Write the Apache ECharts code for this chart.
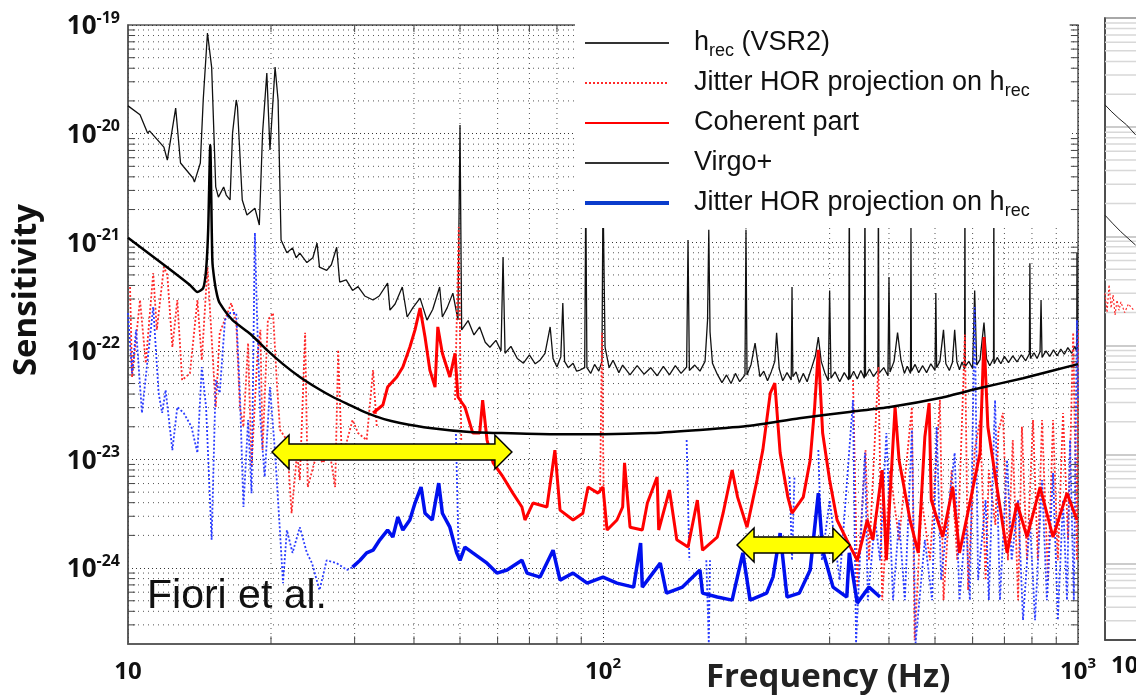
<!DOCTYPE html>
<html>
<head>
<meta charset="utf-8">
<script src="https://cdn.jsdelivr.net/npm/echarts@6/dist/echarts.min.js"></script>
<style>
  html, body { margin: 0; padding: 0; background: #fff; }
  #main { width: 1136px; height: 697px; }
</style>
</head>
<body>
<div id="main"></div>
<script>
// h_rec (VSR2), thin black, [Hz, strain/sqrt(Hz)]
let hrec = [
  [10,1.8e-20],[10.6,1.49e-20],[11.0,1.01e-20],[11.1,1.06e-20],[11.9,7.5e-21],[12.1,5.7e-21],[12.6,1.72e-20],[12.9,5.36e-21],
  [13.7,3.9e-21],[13.8,3.58e-21],[14.2,5.36e-21],[14.4,2.04e-20],[14.7,8.44e-20],[15.0,4.1e-20],[15.3,3.23e-21],[15.5,2.6e-21],
  [15.9,3.23e-21],[16.1,2.72e-21],[16.4,2.45e-21],[16.6,1.01e-20],[16.9,2.04e-20],[17.0,1.76e-20],[17.4,2.45e-21],[17.8,1.78e-21],
  [18.5,2.06e-21],[18.9,1.44e-21],[19.2,1.01e-20],[19.6,3.61e-20],[19.9,7.06e-21],[20.4,4.1e-20],[20.7,2.04e-20],[21.0,1.05e-21],
  [21.6,8e-22],[22.2,8.84e-22],[22.6,7.2e-22],[23.0,7.95e-22],[23.8,6.5e-22],[24.5,7.2e-22],[25.0,9.8e-22],[25.3,5.9e-22],
  [26.2,5.5e-22],[26.8,6.2e-22],[27.5,9.0e-22],[27.9,4.3e-22],[28.8,4.5e-22],[29.7,3.6e-22],[30.5,3.9e-22],[31.5,3.2e-22],
  [32.8,2.94e-22],[33.8,3.2e-22],[35.2,4.21e-22],[35.6,2.37e-22],[36.5,2.7e-22],[37.8,3.87e-22],[38.7,2.05e-22],[39.8,2.5e-22],
  [41.2,3.06e-22],[42.6,1.92e-22],[43.8,2.4e-22],[45.3,3.87e-22],[45.9,2.05e-22],[47.0,2.5e-22],[48.3,3.4e-22],[49.5,1.92e-22],
  [50,1.2e-20],[50.4,1.56e-22],[52,1.9e-22],[53.5,1.4e-22],[55,1.66e-22],[56.5,1.2e-22],[57.8,1.08e-22],[59.5,1.25e-22],
  [61,1.0e-22],[61.6,7.3e-22],[62.2,9.5e-23],[64,1.1e-22],[66,8.5e-23],[68,7.7e-23],[70,9.2e-23],[72,7.6e-23],
  [73.7,8.2e-23],[75.5,9.5e-23],[77.4,1.66e-22],[78.5,8.5e-23],[80,7.1e-23],[81.5,8.8e-23],[82.3,2.75e-22],[83,8e-23],
  [84.5,7e-23],[86.5,7.7e-23],[88,6.5e-23],[89.5,6.66e-23],[91.5,7e-23],[92,3e-21],[92.5,7e-23],[94.2,6.2e-23],
  [96,7.5e-23],[98,6.5e-23],[99.5,8e-23],[100,3e-21],[101,1.08e-22],[103,7.0e-23],[105,8.2e-23],[108,6.3e-23],
  [110,7.4e-23],[114,6.0e-23],[118,7.3e-23],[122,6.1e-23],[126,7.0e-23],[130,5.9e-23],[134,7.2e-23],[138,6.0e-23],
  [142,7.3e-23],[146,6.2e-23],[150,7.1e-23],[151,1.05e-21],[152,6.6e-23],[156,7.4e-23],[160,6.5e-23],[164,8.0e-23],
  [166,1.92e-22],[167,1.3e-21],[168,1.5e-22],[170,7.7e-23],[174,6.1e-23],[178,5.1e-23],[182,6.0e-23],[186,5.0e-23],
  [190,6.2e-23],[194,5.2e-23],[199,6.0e-23],[200,1.3e-21],[201,6.0e-23],[205,7.5e-23],[209,1.18e-22],[212,7.6e-23],
  [214,5.8e-23],[218,6.5e-23],[222,5.3e-23],[226,6.4e-23],[230,8e-23],[232,1.47e-22],[235,6.8e-23],[239,5.3e-23],
  [244,6.3e-23],[249,5.4e-23],[250,3.87e-22],[251,5.8e-23],[255,6.4e-23],[259,5.1e-23],[264,6.2e-23],[269,5.2e-23],
  [275,7e-23],[280,9e-23],[284,1.34e-22],[288,8e-23],[293,6.3e-23],[298,5.3e-23],[300,3.6e-22],[302,5.6e-23],
  [308,6.4e-23],[315,5.2e-23],[322,6.3e-23],[329,5.4e-23],[330,3e-21],[331,5.5e-23],[337,6.5e-23],[343,5.5e-23],
  [349,6.6e-23],[355,5.6e-23],[356,3e-21],[357,5.8e-23],[364,6.8e-23],[371,5.8e-23],[379,6.6e-23],[380,3e-21],
  [381,6.2e-23],[390,7.0e-23],[398,5.9e-23],[400,4.78e-22],[402,6.4e-23],[410,8e-23],[417,1.47e-22],[424,8.2e-23],
  [431,6.2e-23],[437,7.2e-23],[444,6.2e-23],[445,1.38e-21],[446,6.5e-23],[454,7.5e-23],[462,6.3e-23],[471,7.3e-23],
  [480,6.3e-23],[490,7.6e-23],[500,6.6e-23],[502,3.4e-22],[504,7.0e-23],[512,8.0e-23],[521,1.56e-22],[527,7.6e-23],
  [536,6.6e-23],[544,7.8e-23],[550,1.56e-22],[556,7.9e-23],[563,6.7e-23],[570,7.9e-23],[577,6.8e-23],[578,3e-21],
  [579,7.2e-23],[589,8.0e-23],[600,6.9e-23],[606,3.6e-22],[612,7.4e-23],[622,8.3e-23],[634,1.82e-22],[642,8.4e-23],
  [652,7.3e-23],[664,8.5e-23],[665,3e-21],[666,7.6e-23],[676,8.7e-23],[688,7.6e-23],[700,8.9e-23],[714,7.8e-23],
  [729,9.0e-23],[744,7.9e-23],[760,9.2e-23],[776,8.1e-23],[790,9.4e-23],[792,6.4e-22],[794,8.5e-23],[808,9.6e-23],
  [820,8.5e-23],[832,9.8e-23],[836,2.94e-22],[840,8.7e-23],[856,1.0e-22],[872,8.9e-23],[888,1.02e-22],[904,9.0e-23],
  [920,1.04e-22],[936,9.3e-23],[952,1.07e-22],[970,9.5e-23],[985,1.1e-22],[994,9.8e-23],[995,7.95e-22],[997,1.0e-22],
  [1000,1.05e-22]
];

// Virgo+ design curve, thick black
let virgo = [
  [10,1.1e-21],[11.1,7.8e-22],[12.3,5.55e-22],[13.5,4.04e-22],[14.0,3.48e-22],[14.4,3.79e-22],[14.6,5.55e-22],[14.75,1.3e-21],
  [14.9,7.85e-21],[15.05,6.85e-22],[15.2,4.49e-22],[15.4,3.26e-22],[15.6,2.75e-22],[16.6,1.92e-22],[18.1,1.43e-22],[19.6,1.02e-22],
  [21.2,7.55e-23],[23.0,5.75e-23],[25.0,4.55e-23],[27.0,3.76e-23],[29.3,3.17e-23],[31.8,2.68e-23],[34.6,2.35e-23],[37.4,2.17e-23],
  [43.2,1.95e-23],[52.4,1.79e-23],[60.7,1.75e-23],[77.4,1.71e-23],[100,1.71e-23],[126,1.75e-23],[160,1.87e-23],[204,2.04e-23],
  [259,2.4e-23],[330,2.74e-23],[402,3.04e-23],[512,3.68e-23],[622,4.55e-23],[766,5.6e-23],[1000,7.55e-23]
];

// Coherent part, thick red
let coherent = [
  [32.8,2.68e-23],[34.4,3.17e-23],[35.2,4.64e-23],[36.8,5.75e-23],[37.9,7.1e-23],[39.2,1.08e-22],[40.2,1.56e-22],[41.2,2.48e-22],
  [42.2,1.34e-22],[43.2,6.66e-23],[44.3,4.64e-23],[44.9,1.66e-22],[45.9,9.5e-23],[47.6,5.75e-23],[48.8,9.5e-23],[49.5,3.76e-23],
  [51.2,3.04e-23],[53.2,1.75e-23],[55.0,1.75e-23],[55.8,3.52e-23],[57.0,1.51e-23],[58.7,9.3e-24],[61.6,6.9e-24],[64.6,4.9e-24],
  [67.5,3.65e-24],[68.5,2.77e-24],[71.2,3.97e-24],[76.2,3.65e-24],[79.2,1.22e-23],[81.2,3.42e-24],[86.5,2.77e-24],[90.7,3.2e-24],
  [93.0,5.57e-24],[97.6,4.9e-24],[100,5.57e-24],[102,2.24e-24],[107,2.77e-24],[110,3.65e-24],[111,9.3e-24],[114,2.38e-24],
  [121,2.24e-24],[124,3.97e-24],[130,6.9e-24],[131,2.24e-24],[138,5.23e-24],[143,1.82e-24],[151,1.56e-24],[158,4.23e-24],
  [162,1.46e-24],[174,1.93e-24],[179,3.2e-24],[187,7.98e-24],[192,4.5e-24],[201,2.38e-24],[211,6.46e-24],[217,1.22e-23],
  [225,4.09e-23],[230,5.05e-23],[236,1.15e-23],[245,4.5e-24],[250,3.2e-24],[264,4.5e-24],[273,9.9e-24],[279,3.04e-23],
  [284,1.02e-22],[290,1.75e-23],[300,6.46e-24],[311,2.77e-24],[326,1.82e-24],[343,1.18e-24],[360,2.77e-24],[370,1.82e-24],
  [387,7.98e-24],[395,1.18e-24],[412,3.04e-23],[420,9.9e-24],[443,2.77e-24],[461,1.38e-24],[476,1.62e-23],[486,3.3e-23],
  [491,4.23e-24],[519,1.93e-24],[545,5.57e-24],[563,1.38e-24],[592,3.97e-24],[622,1.15e-23],[634,1.34e-22],[646,2.0e-23],
  [675,5.57e-24],[709,1.38e-24],[744,3.97e-24],[781,1.93e-24],[832,5.57e-24],[886,1.93e-24],[948,4.9e-24],[995,2.77e-24]
];

// Jitter HOR projection on h_rec, red dotted ('-' = gap)
let jitterRed = [
  [10.1,3.87e-22],[10.2,5.75e-23],[10.6,2.94e-22],[10.9,7.7e-23],[11.3,5.2e-22],[11.5,1.56e-22],[11.9,5.9e-22],[12.1,4.99e-22],
  [12.4,1.08e-22],[12.7,2.94e-22],[13.0,5.38e-23],[13.5,6.2e-23],[14.0,2.94e-22],[14.3,8.2e-23],[14.6,3.6e-22],[14.7,5.9e-22],
  [15.3,3.04e-23],[15.6,1.47e-22],[16.2,2.23e-22],[16.5,2.75e-22],[16.9,1.82e-22],[17.2,3.04e-23],[17.5,2.0e-23],[17.9,1.18e-22],
  [18.2,8.5e-24],[18.7,8.2e-23],[19.0,1.56e-22],[19.2,1.22e-23],[19.7,1.92e-22],[20.2,2.23e-22],[20.6,4.64e-23],[20.9,1.87e-23],
  [21.6,1.51e-23],[22.1,3.2e-24],[22.7,1.15e-23],[23.0,6.46e-24],[23.6,1.47e-22],[23.9,5.57e-24],[25.0,1.15e-23],[25.7,9.3e-24],
  [26.6,1.15e-23],[27.3,5.57e-24],[27.7,1.02e-22],[28.2,9.9e-24],[29.7,2.31e-23],[30.5,1.75e-23],[31.8,1.51e-23],[32.8,6.66e-23],
  [33.4,2.0e-23],[34,'-'],
  [48.8,3.52e-23],[49.7,1.38e-21],[50.3,1.51e-23],[51,'-'],
  [98.6,4.9e-24],[99.5,1.47e-22],[100.5,2.24e-24],[102,'-'],
  [336,5.38e-23],[343,6.68e-25],[357,1.22e-23],[363,1.18e-24],[380,7.1e-23],[387,5.07e-25],[402,7.98e-24],[420,1.82e-24],
  [447,3.04e-23],[453,2.17e-25],[469,4.23e-24],[488,1.18e-24],[512,3.52e-23],[521,5.07e-25],[542,7.98e-24],[557,1.18e-24],
  [578,1.41e-22],[587,6.26e-25],[606,1.22e-23],[622,2.31e-23],[639,7.75e-25],[649,7.98e-24],[670,2.5e-24],[680,1.8e-23],
  [695,2.68e-23],[712,1.18e-24],[729,1.51e-23],[748,5.07e-25],[762,2.0e-23],[781,1.18e-24],[804,2.31e-23],[823,1.18e-24],
  [840,2.31e-23],[865,7.75e-25],[886,2.31e-23],[907,1.18e-24],[930,2.68e-23],[953,1.82e-24],[977,1.47e-22],[995,1.18e-24],
  [1000,1.56e-22]
];

// Jitter HOR projection on h_rec, blue thick
let jitterBlue = [
  [29.7,1.02e-24],[30.8,1.18e-24],[31.8,1.38e-24],[32.8,1.46e-24],[33.9,1.82e-24],[35.2,2.24e-24],[36.1,1.93e-24],[37.0,2.95e-24],
  [37.9,2.24e-24],[39.2,2.77e-24],[40.2,3.97e-24],[41.4,5.57e-24],[42.2,3.2e-24],[43.7,2.77e-24],[45.1,6.06e-24],[45.9,3.2e-24],
  [47.6,2.38e-24],[49.2,1.38e-24],[50,1.18e-24],[51.2,1.56e-24],[53.2,1.38e-24],[57.0,1.11e-24],[59.8,9.0e-25],[62.8,9.6e-25],
  [67.5,1.18e-24],[69.2,9.0e-25],[73.7,8.26e-25],[78.5,1.46e-24],[81.2,7.75e-25],[86.5,9.0e-25],[92.6,7.27e-25],[100,8.26e-25],
  [107,7.27e-25],[116,6.68e-25],[120,1.7e-24],[121,6.68e-25],[132,1.11e-24],[136,5.88e-25],[147,6.68e-25],[160,9.6e-25],
  [162,5.88e-25],[174,5.41e-25],[187,5.07e-25],[197,1.38e-24],[204,5.07e-25],[221,5.88e-25],[228,8.26e-25],[236,2.1e-24],
  [244,5.41e-25],[259,5.88e-25],[273,9.6e-25],[282,3.65e-24],[284,4.9e-24],[290,1.46e-24],[305,6.68e-25],[326,5.41e-25],
  [330,1.38e-24],[343,4.76e-25],[363,6.68e-25],[383,5.41e-25]
];

// same projection, blue dotted parts ('-' = gap)
let jitterBlueDots = [
  [10,2.23e-22],[10.2,6.2e-23],[10.4,1.56e-22],[10.7,2.68e-23],[11.3,2.53e-22],[11.6,4.09e-23],[11.8,2.68e-23],[12.0,4.36e-23],
  [12.4,1.22e-23],[12.7,3.04e-23],[13.1,2.68e-23],[13.6,2.0e-23],[14.0,1.15e-23],[14.3,7.1e-23],[14.6,3.04e-23],[15.0,1.82e-24],
  [15.3,5.38e-23],[15.6,4.09e-23],[16.0,1.92e-22],[16.4,2.23e-22],[16.9,2.23e-22],[17.2,4.09e-23],[17.5,3.65e-24],[17.9,2.31e-23],
  [18.2,4.9e-24],[18.5,1.22e-21],[18.7,1.92e-22],[19.0,2.31e-23],[19.4,6.9e-24],[19.9,4.64e-23],[20.4,1.15e-23],[20.9,2.1e-24],
  [21.2,7.27e-25],[21.6,2.24e-24],[22.2,1.38e-24],[23.0,2.38e-24],[23.8,1.38e-24],[24.4,1.11e-24],[25.3,6.26e-25],[26.2,1.18e-24],
  [27.5,1.11e-24],[28.9,9.6e-25],[29.7,1.02e-24],[30,'-'],
  [49.0,1.87e-23],[49.7,1.18e-24],[50.5,'-'],
  [150,1.51e-23],[152,1.18e-24],[154,'-'],
  [165,1.18e-24],[167,2.04e-25],[168,1.18e-24],[170,'-'],
  [247,6.9e-24],[250,1.18e-24],[253,6.9e-24],[256,'-'],
  [284,1.22e-23],[289,1.18e-24],[300,4.23e-24],[315,7.75e-25],[330,1.22e-23],[336,3.52e-23],[341,2.04e-25],[352,4.23e-24],
  [356,1.15e-23],[361,5.07e-25],[374,2.77e-24],[383,1.18e-24],[395,1.75e-23],[408,5.07e-25],[420,2.77e-24],[432,5.07e-25],
  [447,1.87e-23],[455,2.04e-25],[476,1.82e-24],[493,5.07e-25],[504,2.0e-23],[515,7.75e-25],[536,4.23e-24],[550,1.15e-23],
  [563,5.07e-25],[581,2.77e-24],[592,5.07e-25],[606,2.53e-22],[616,7.75e-25],[639,4.23e-24],[649,5.07e-25],[669,3.52e-23],
  [685,5.07e-25],[709,9.9e-24],[725,1.18e-24],[748,4.23e-24],[766,3.32e-25],[792,2.77e-24],[812,3.32e-25],[840,6.46e-24],
  [860,5.07e-25],[886,7.5e-24],[907,3.32e-25],[930,4.23e-24],[948,5.07e-25],[962,1.51e-23],[980,5.07e-25],[995,1.92e-22],
  [1000,3.52e-23]
];

// cropped neighbour panel on the right edge
let panelTop = [[10,1.6e-20],[10.3,1.4e-20],[10.7,1.2e-20],[11.1,1.05e-20],[11.6,8.5e-21]];
let panelMid = [[10,1.56e-21],[10.4,1.3e-21],[10.8,1.1e-21],[11.6,8.3e-22]];
let panelRed = [[10,3.0e-22],[10.1,2.0e-22],[10.2,3.6e-22],[10.3,2.2e-22],[10.4,2.9e-22],[10.5,1.9e-22],
                [10.6,2.6e-22],[10.7,2.1e-22],[10.8,2.5e-22],[11.0,2.0e-22],[11.2,2.4e-22],[11.5,2.1e-22]];

// yellow double arrows: [from Hz, to Hz, level]
let arrows = [[20.1, 64.3, 1.17e-23], [191.5, 331, 1.63e-24]];

let legendText = {
    hrec: '{n|h}{sub|rec}{n| (VSR2)}',
    jitR: '{n|Jitter HOR projection on h}{sub|rec}',
    coh: '{n|Coherent part}',
    virgo: '{n|Virgo+}',
    jitB: '{n|Jitter HOR projection on h}{sub|rec}'
};

// minor grid lines 2..9 of each decade, drawn as gapped line segments
let xMinor = [];
[10, 100].forEach(function (d) { for (let k = 2; k <= 9; k++) xMinor.push(k * d); });
let yMinor = [];
for (let e = -25; e <= -20; e++) {
    for (let k = 2; k <= 9; k++) {
        let v = k * Math.pow(10, e);
        if (v > 2.05e-25 && v < 1e-19) yMinor.push(v);
    }
}
let hLines = [], vLines = [], tickLines = [];
yMinor.forEach(function (v) {
    hLines.push([10, v], [1000, v], [1000, '-']);
    tickLines.push([10, v], [10.35, v], [10.35, '-'], [966, v], [1000, v], [1000, '-']);
});
xMinor.forEach(function (f) {
    vLines.push([f, 2e-25], [f, 1e-19], [f, '-']);
    tickLines.push([f, 2e-25], [f, 2.35e-25], [f, '-'], [f, 1e-19], [f, 8.6e-20], [f, '-']);
});

let labelFont = '"Open Sans", sans-serif';
let myChart = echarts.init(document.getElementById('main'));

function yLabel(v) {
    let e = Math.log10(v), r = Math.round(e);
    if (Math.abs(e - r) > 1e-3) return '';
    return '{b|10}{s|' + r + '}';
}

function gridSeries(name, xi, data, style) {
    return {
        name: name, type: 'line', xAxisIndex: xi, yAxisIndex: xi, data: data,
        symbol: 'none', silent: true, z: 1, connectNulls: false,
        lineStyle: style
    };
}

let option = {
    animation: false,
    backgroundColor: '#fff',
    grid: [
        { left: 128, top: 25, width: 950, height: 619, containLabel: false, outerBoundsMode: 'none',
          show: true, borderColor: '#555', borderWidth: 1.5 },
        { left: 1105, top: 18, width: 950, height: 622, containLabel: false, outerBoundsMode: 'none',
          show: true, borderColor: '#444', borderWidth: 1.5 }
    ],
    xAxis: [{
        type: 'log', gridIndex: 0, min: 10, max: 1000,
        axisLine: { show: true, lineStyle: { color: '#555', width: 1.5 } },
        axisTick: { show: false },
        splitLine: { show: true, lineStyle: { color: '#333', type: [1, 3] } },
        axisLabel: {
            margin: 12, color: '#111',
            formatter: function (v) {
                let r = Math.round(Math.log10(v));
                return r === 1 ? '{b|10}' : '{b|10}{s|' + r + '}';
            },
            rich: {
                b: { fontFamily: labelFont, fontWeight: 'bold', fontSize: 24, lineHeight: 28, verticalAlign: 'bottom', color: '#111' },
                s: { fontFamily: labelFont, fontWeight: 'bold', fontSize: 15, lineHeight: 16, verticalAlign: 'top', color: '#111' }
            }
        }
    }, {
        type: 'log', gridIndex: 1, min: 10, max: 1000,
        axisLine: { show: true, lineStyle: { color: '#444', width: 1.5 } },
        axisTick: { show: false },
        splitLine: { show: false },
        axisLabel: {
            margin: 12, align: 'left', padding: [0, 0, 0, 6],
            formatter: function (v) { return v < 11 ? '{b|10}' : ''; },
            rich: { b: { fontFamily: labelFont, fontWeight: 'bold', fontSize: 24, lineHeight: 28, color: '#111' } }
        }
    }],
    yAxis: [{
        type: 'log', gridIndex: 0, min: 2e-25, max: 1e-19,
        axisLine: { show: true, lineStyle: { color: '#555', width: 1.5 } },
        axisTick: { show: false },
        splitLine: { show: true, lineStyle: { color: '#333', type: [1, 3] } },
        axisLabel: {
            margin: 8, color: '#111',
            formatter: yLabel,
            rich: {
                b: { fontFamily: labelFont, fontWeight: 'bold', fontSize: 26, lineHeight: 30, verticalAlign: 'bottom', color: '#111' },
                s: { fontFamily: labelFont, fontWeight: 'bold', fontSize: 16, lineHeight: 16, verticalAlign: 'top', color: '#111' }
            }
        }
    }, {
        type: 'log', gridIndex: 1, min: 2e-25, max: 1e-19,
        axisLine: { show: true, lineStyle: { color: '#444', width: 1.5 } },
        axisTick: { show: false },
        axisLabel: { show: false },
        splitLine: { show: true, lineStyle: { color: '#bbb', width: 1.5 } }
    }],
    legend: {
        data: [
            { name: 'hrec', lineStyle: { width: 2, color: '#333' } },
            { name: 'jitR', lineStyle: { width: 2 } },
            { name: 'coh', lineStyle: { width: 2 } },
            { name: 'virgo', lineStyle: { width: 2, color: '#333' } },
            { name: 'jitB', lineStyle: { width: 4, color: '#0a3ccc' } }
        ],
        orient: 'vertical',
        left: 575, top: 20,
        padding: [6, 40, 8, 8],
        itemGap: 6, itemWidth: 84, itemHeight: 14,
        backgroundColor: '#fff',
        z: 20,
        selectedMode: false,
        itemStyle: { opacity: 0 },
        formatter: function (name) { return legendText[name]; },
        textStyle: {
            fontFamily: '"Liberation Sans", Arial, sans-serif', fontSize: 27, color: '#111', lineHeight: 34,
            padding: [0, 0, 0, 20],
            rich: {
                n: { fontFamily: '"Liberation Sans", Arial, sans-serif', fontSize: 27, lineHeight: 34, color: '#111' },
                sub: { fontFamily: '"Liberation Sans", Arial, sans-serif', fontSize: 18, lineHeight: 22, verticalAlign: 'bottom', color: '#111' }
            }
        }
    },
    series: [
        gridSeries('gridH', 0, hLines, { color: '#555', type: [1, 4], width: 1 }),
        gridSeries('gridV', 0, vLines, { color: '#555', type: [1, 4], width: 1 }),
        gridSeries('ticks', 0, tickLines, { color: '#444', type: 'solid', width: 1 }),
        gridSeries('panelGrid', 1, hLines, { color: '#d8d8d8', type: 'solid', width: 1.5 }),
        {
            name: 'hrec', type: 'line', xAxisIndex: 0, yAxisIndex: 0, data: hrec, symbol: 'none', z: 2,
            lineStyle: { color: '#111', width: 1.3 }, itemStyle: { color: '#111' }
        },
        {
            name: 'jitR', type: 'line', xAxisIndex: 0, yAxisIndex: 0, data: jitterRed, symbol: 'none', z: 3,
            lineStyle: { color: '#ff2a2a', width: 1.8, type: [2, 2] }, itemStyle: { color: '#ff2a2a' }
        },
        {
            name: 'jitB', type: 'line', xAxisIndex: 0, yAxisIndex: 0, data: jitterBlue, symbol: 'none', z: 4,
            lineStyle: { color: '#0010ee', width: 3.5 }, itemStyle: { color: '#0010ee' }
        },
        {
            name: 'jitB', type: 'line', xAxisIndex: 0, yAxisIndex: 0, data: jitterBlueDots, symbol: 'none', z: 3,
            lineStyle: { color: '#2a3cff', width: 1.8, type: [2, 2] }, itemStyle: { color: '#2a3cff' }
        },
        {
            name: 'coh', type: 'line', xAxisIndex: 0, yAxisIndex: 0, data: coherent, symbol: 'none', z: 5,
            lineStyle: { color: '#ff0000', width: 3 }, itemStyle: { color: '#ff0000' }
        },
        {
            name: 'virgo', type: 'line', xAxisIndex: 0, yAxisIndex: 0, data: virgo, symbol: 'none', z: 6, smooth: 0.2,
            lineStyle: { color: '#000', width: 2.5 }, itemStyle: { color: '#000' }
        },
        {
            name: 'panelTop', type: 'line', xAxisIndex: 1, yAxisIndex: 1, data: panelTop, symbol: 'none',
            lineStyle: { color: '#222', width: 1 }
        },
        {
            name: 'panelMid', type: 'line', xAxisIndex: 1, yAxisIndex: 1, data: panelMid, symbol: 'none',
            lineStyle: { color: '#222', width: 1 }
        },
        {
            name: 'panelRed', type: 'line', xAxisIndex: 1, yAxisIndex: 1, data: panelRed, symbol: 'none',
            lineStyle: { color: '#ff3030', width: 1.2, type: [2, 2] }
        }
    ]
};

myChart.setOption(option);

// annotations placed through the axes' own conversion
let graphics = [
    {
        type: 'text', x: 27, y: 290, rotation: Math.PI / 2, z: 30,
        style: { text: 'Sensitivity', font: 'bold 33px "Open Sans"', fill: '#111', align: 'center', verticalAlign: 'middle' }
    },
    {
        type: 'text', x: 706, y: 678, z: 30,
        style: { text: 'Frequency (Hz)', font: 'bold 33px "Open Sans"', fill: '#222', verticalAlign: 'middle' }
    },
    {
        type: 'text', x: 147, y: 597, z: 30,
        style: { text: 'Fiori et al.', font: '41px "Liberation Sans"', fill: '#111', verticalAlign: 'middle' }
    }
];
let headLen = 17, headH = 17, shaftH = 8;
arrows.forEach(function (a) {
    let p1 = myChart.convertToPixel({ gridIndex: 0 }, [a[0], a[2]]);
    let p2 = myChart.convertToPixel({ gridIndex: 0 }, [a[1], a[2]]);
    if (!p1 || !p2) return;
    let x1 = p1[0], x2 = p2[0], y = p1[1];
    graphics.push({
        type: 'polygon', z: 25,
        shape: {
            points: [
                [x1, y], [x1 + headLen, y - headH], [x1 + headLen, y - shaftH], [x2 - headLen, y - shaftH],
                [x2 - headLen, y - headH], [x2, y], [x2 - headLen, y + headH], [x2 - headLen, y + shaftH],
                [x1 + headLen, y + shaftH], [x1 + headLen, y + headH]
            ]
        },
        style: { fill: '#ffff00', stroke: '#000', lineWidth: 1.5 }
    });
});
myChart.setOption({ graphic: graphics });
</script>
</body>
</html>
